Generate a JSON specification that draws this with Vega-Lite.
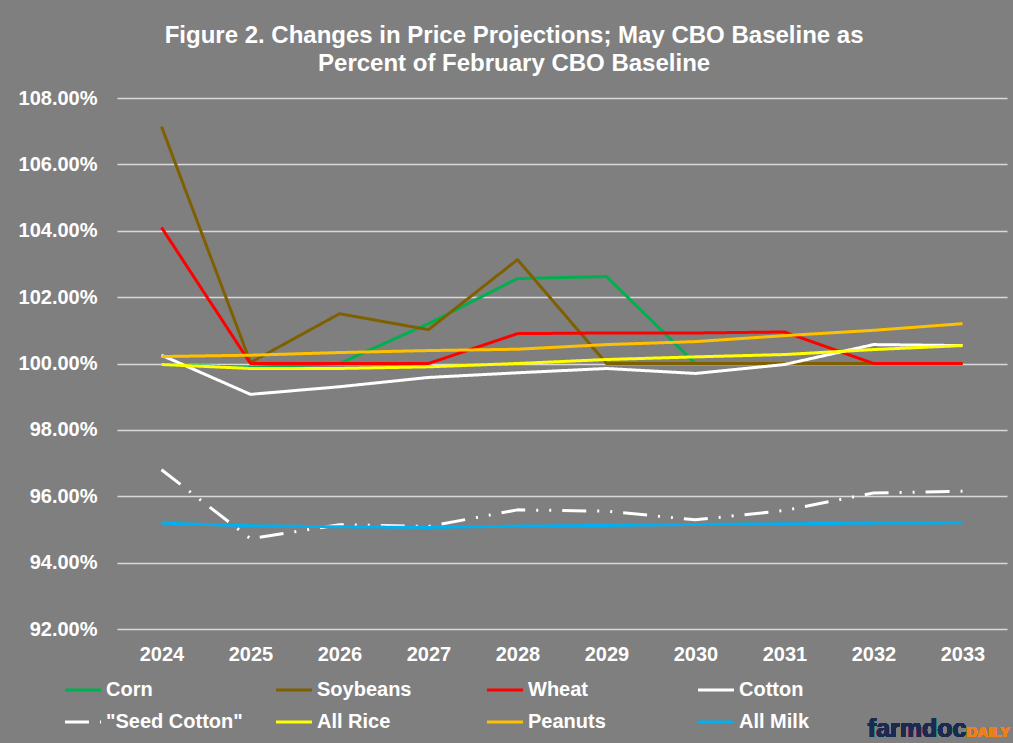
{
  "$schema": "https://vega.github.io/schema/vega-lite/v6.json",
  "width": 890,
  "height": 531,
  "autosize": {"type": "none"},
  "padding": {"left": 117, "top": 98, "right": 6, "bottom": 114},
  "background": "#7F7F7F",
  "title": {
    "text": ["Figure 2. Changes in Price Projections; May CBO Baseline as", "Percent of February CBO Baseline"],
    "color": "#FFFFFF",
    "font": "Liberation Sans",
    "fontSize": 24,
    "fontWeight": "bold",
    "lineHeight": 28,
    "anchor": "middle",
    "frame": "bounds",
    "offset": 12
  },
  "config": {
    "view": {"stroke": null},
    "axis": {
      "domain": false,
      "ticks": false,
      "labelColor": "#FFFFFF",
      "labelFont": "Liberation Sans",
      "labelFontWeight": "bold",
      "labelFontSize": 20,
      "gridColor": "#D9D9D9",
      "gridWidth": 1.5
    }
  },
  "data": {
    "values": [
      {"series": "Corn", "year": "2024", "value": 99.97},
      {"series": "Corn", "year": "2025", "value": 99.88},
      {"series": "Corn", "year": "2026", "value": 100.0},
      {"series": "Corn", "year": "2027", "value": 101.2},
      {"series": "Corn", "year": "2028", "value": 102.56},
      {"series": "Corn", "year": "2029", "value": 102.62},
      {"series": "Corn", "year": "2030", "value": 100.0},
      {"series": "Corn", "year": "2031", "value": 100.0},
      {"series": "Corn", "year": "2032", "value": 100.0},
      {"series": "Corn", "year": "2033", "value": 100.0},
      {"series": "Soybeans", "year": "2024", "value": 107.14},
      {"series": "Soybeans", "year": "2025", "value": 100.03},
      {"series": "Soybeans", "year": "2026", "value": 101.5},
      {"series": "Soybeans", "year": "2027", "value": 101.02},
      {"series": "Soybeans", "year": "2028", "value": 103.13},
      {"series": "Soybeans", "year": "2029", "value": 100.0},
      {"series": "Soybeans", "year": "2030", "value": 100.0},
      {"series": "Soybeans", "year": "2031", "value": 100.0},
      {"series": "Soybeans", "year": "2032", "value": 100.0},
      {"series": "Soybeans", "year": "2033", "value": 100.0},
      {"series": "Wheat", "year": "2024", "value": 104.1},
      {"series": "Wheat", "year": "2025", "value": 100.0},
      {"series": "Wheat", "year": "2026", "value": 100.0},
      {"series": "Wheat", "year": "2027", "value": 100.0},
      {"series": "Wheat", "year": "2028", "value": 100.9},
      {"series": "Wheat", "year": "2029", "value": 100.92},
      {"series": "Wheat", "year": "2030", "value": 100.92},
      {"series": "Wheat", "year": "2031", "value": 100.95},
      {"series": "Wheat", "year": "2032", "value": 100.0},
      {"series": "Wheat", "year": "2033", "value": 100.0},
      {"series": "Cotton", "year": "2024", "value": 100.25},
      {"series": "Cotton", "year": "2025", "value": 99.07},
      {"series": "Cotton", "year": "2026", "value": 99.3},
      {"series": "Cotton", "year": "2027", "value": 99.58},
      {"series": "Cotton", "year": "2028", "value": 99.72},
      {"series": "Cotton", "year": "2029", "value": 99.85},
      {"series": "Cotton", "year": "2030", "value": 99.7},
      {"series": "Cotton", "year": "2031", "value": 99.97},
      {"series": "Cotton", "year": "2032", "value": 100.57},
      {"series": "Cotton", "year": "2033", "value": 100.54},
      {"series": "\"Seed Cotton\"", "year": "2024", "value": 96.8},
      {"series": "\"Seed Cotton\"", "year": "2025", "value": 94.72},
      {"series": "\"Seed Cotton\"", "year": "2026", "value": 95.14},
      {"series": "\"Seed Cotton\"", "year": "2027", "value": 95.09},
      {"series": "\"Seed Cotton\"", "year": "2028", "value": 95.59},
      {"series": "\"Seed Cotton\"", "year": "2029", "value": 95.55},
      {"series": "\"Seed Cotton\"", "year": "2030", "value": 95.29},
      {"series": "\"Seed Cotton\"", "year": "2031", "value": 95.57},
      {"series": "\"Seed Cotton\"", "year": "2032", "value": 96.1},
      {"series": "\"Seed Cotton\"", "year": "2033", "value": 96.15},
      {"series": "All Rice", "year": "2024", "value": 99.97},
      {"series": "All Rice", "year": "2025", "value": 99.85},
      {"series": "All Rice", "year": "2026", "value": 99.85},
      {"series": "All Rice", "year": "2027", "value": 99.9},
      {"series": "All Rice", "year": "2028", "value": 100.0},
      {"series": "All Rice", "year": "2029", "value": 100.12},
      {"series": "All Rice", "year": "2030", "value": 100.2},
      {"series": "All Rice", "year": "2031", "value": 100.27},
      {"series": "All Rice", "year": "2032", "value": 100.42},
      {"series": "All Rice", "year": "2033", "value": 100.54},
      {"series": "Peanuts", "year": "2024", "value": 100.21},
      {"series": "Peanuts", "year": "2025", "value": 100.25},
      {"series": "Peanuts", "year": "2026", "value": 100.33},
      {"series": "Peanuts", "year": "2027", "value": 100.39},
      {"series": "Peanuts", "year": "2028", "value": 100.43},
      {"series": "Peanuts", "year": "2029", "value": 100.57},
      {"series": "Peanuts", "year": "2030", "value": 100.66},
      {"series": "Peanuts", "year": "2031", "value": 100.84},
      {"series": "Peanuts", "year": "2032", "value": 101.0},
      {"series": "Peanuts", "year": "2033", "value": 101.2},
      {"series": "All Milk", "year": "2024", "value": 95.19},
      {"series": "All Milk", "year": "2025", "value": 95.11},
      {"series": "All Milk", "year": "2026", "value": 95.08},
      {"series": "All Milk", "year": "2027", "value": 95.06},
      {"series": "All Milk", "year": "2028", "value": 95.1},
      {"series": "All Milk", "year": "2029", "value": 95.12},
      {"series": "All Milk", "year": "2030", "value": 95.15},
      {"series": "All Milk", "year": "2031", "value": 95.17},
      {"series": "All Milk", "year": "2032", "value": 95.19},
      {"series": "All Milk", "year": "2033", "value": 95.2}
    ]
  },
  "encoding": {
    "x": {
      "field": "year",
      "type": "ordinal",
      "axis": {"title": null, "labelAngle": 0, "grid": false, "labelPadding": 15}
    },
    "y": {
      "field": "value",
      "type": "quantitative",
      "scale": {"domain": [92, 108], "nice": false, "zero": false},
      "axis": {
        "title": null,
        "values": [92, 94, 96, 98, 100, 102, 104, 106, 108],
        "labelExpr": "format(datum.value, '.2f') + '%'",
        "labelPadding": 20
      }
    }
  },
  "layer": [
    {
      "mark": {"type": "line", "strokeWidth": 3, "strokeJoin": "round"},
      "encoding": {
        "color": {
          "field": "series",
          "type": "nominal",
          "sort": null,
          "scale": {
            "domain": ["Corn", "Soybeans", "Wheat", "Cotton", "\"Seed Cotton\"", "All Rice", "Peanuts", "All Milk"],
            "range": ["#00B050", "#7F6000", "#FF0000", "#FFFFFF", "#FFFFFF", "#FFFF00", "#FFC000", "#00B0F0"]
          },
          "legend": {
            "title": null,
            "orient": "none",
            "legendX": -54,
            "legendY": 572,
            "direction": "horizontal",
            "columns": 4,
            "gridAlign": "all",
            "columnPadding": 26,
            "rowPadding": 2,
            "symbolType": "stroke",
            "symbolSize": 1300,
            "symbolStrokeWidth": 3,
            "labelColor": "#FFFFFF",
            "labelFont": "Liberation Sans",
            "labelFontWeight": "bold",
            "labelFontSize": 20,
            "labelOffset": 3,
            "labelLimit": 250
          }
        },
        "strokeDash": {
          "field": "series",
          "type": "nominal",
          "sort": null,
          "scale": {
            "domain": ["Corn", "Soybeans", "Wheat", "Cotton", "\"Seed Cotton\"", "All Rice", "Peanuts", "All Milk"],
            "range": [[1, 0], [1, 0], [1, 0], [1, 0], [24, 11, 2, 11, 2, 11], [1, 0], [1, 0], [1, 0]]
          },
          "legend": {
            "title": null,
            "orient": "none",
            "legendX": -54,
            "legendY": 572,
            "direction": "horizontal",
            "columns": 4,
            "gridAlign": "all",
            "columnPadding": 26,
            "rowPadding": 2,
            "symbolType": "stroke",
            "symbolSize": 1300,
            "symbolStrokeWidth": 3,
            "labelColor": "#FFFFFF",
            "labelFont": "Liberation Sans",
            "labelFontWeight": "bold",
            "labelFontSize": 20,
            "labelOffset": 3,
            "labelLimit": 250
          }
        }
      }
    },
    {
      "mark": {"type": "text", "text": "farmdoc", "align": "right", "baseline": "alphabetic", "font": "Liberation Sans", "fontWeight": "bold", "fontSize": 25, "color": "#1B2A4E", "dx": 4},
      "encoding": {"x": {"datum": "2033"}, "y": {"datum": 88.75}}
    },
    {
      "mark": {"type": "text", "text": "DAILY", "align": "left", "baseline": "alphabetic", "font": "Liberation Sans", "fontWeight": "bold", "fontSize": 15, "color": "#F07F1A", "dx": 4},
      "encoding": {"x": {"datum": "2033"}, "y": {"datum": 88.75}}
    }
  ]
}
